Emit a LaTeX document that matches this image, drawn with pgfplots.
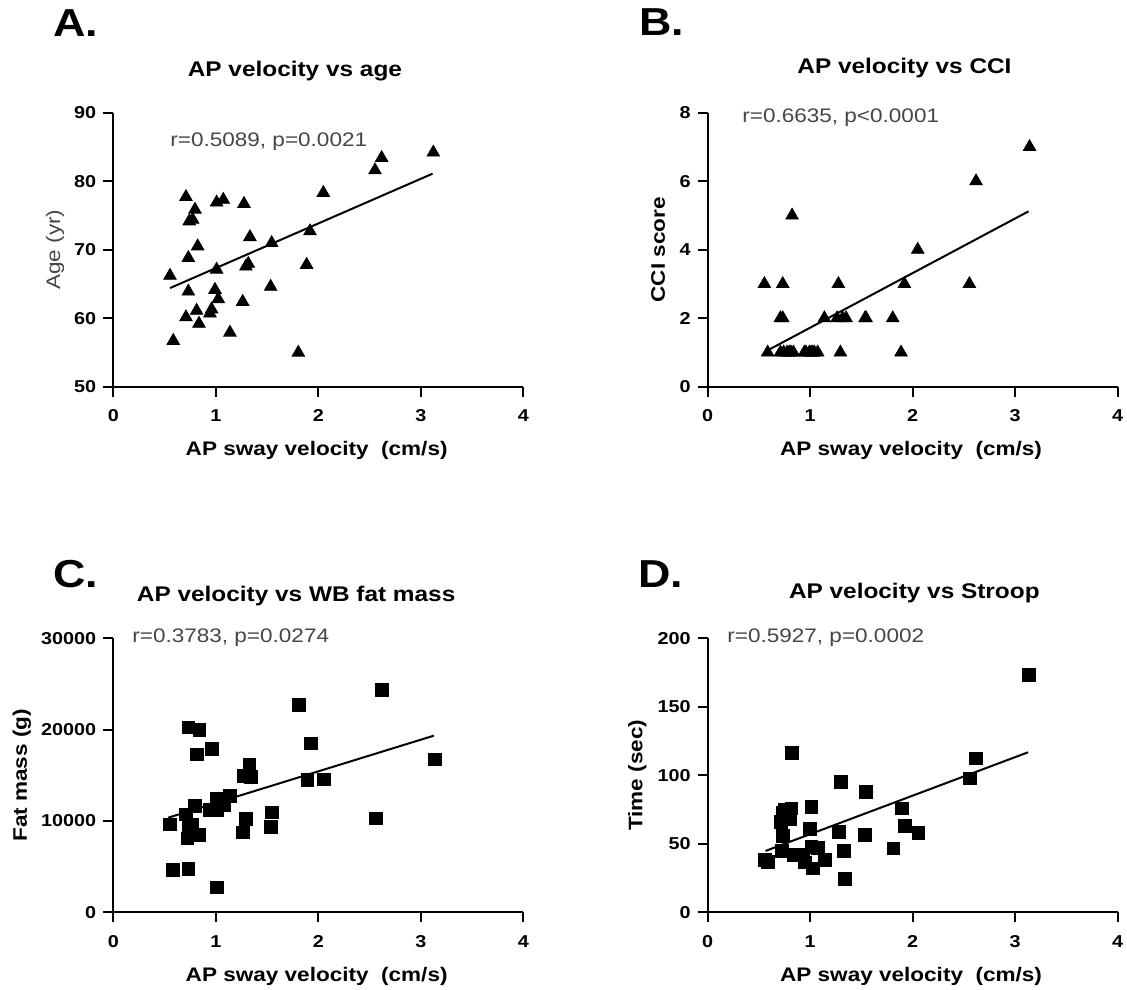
\documentclass[border=0pt]{standalone}
\usepackage{fontspec}
\setmainfont{Liberation Sans}[FakeStretch=1.15]
\usepackage{pgfplots}
\pgfplotsset{compat=1.18}
\definecolor{anno}{RGB}{70,70,70}

\pgfplotsset{
  panel/.style={
    width=205pt, height=137pt, scale only axis,
    xmin=0, xmax=4, xtick={0,1,2,3,4},
    axis lines=left,
    axis line style={line width=1pt,-},
    tick style={line width=1pt,black},
    tick align=outside, major tick length=5pt,
    ticklabel style={font=\bfseries\fontsize{8.6}{10}\selectfont},
    xticklabel style={yshift=-3pt},
    /pgf/number format/assume math mode=true,
    /pgf/number format/1000 sep={},
    scaled y ticks=false,
    clip=false,
    xlabel={AP sway velocity\ \ (cm/s)},
    xlabel style={at={(axis description cs:0.496,0)}, anchor=base, yshift=-34.6pt,
      font=\bfseries\fontsize{9.8}{11}\selectfont},
    ylabel style={anchor=center, font=\bfseries\fontsize{9.8}{11}\selectfont},
    title style={anchor=base, font=\bfseries\fontsize{10.6}{12}\selectfont},
  },
  tri/.style={only marks, mark=triangle*, mark size=3.6pt, black},
  sq/.style={only marks, mark=square*, mark size=3.2pt, black},
  fit/.style={black, line width=1pt, no marks},
}
\tikzset{
  annot/.style={anchor=base west, inner sep=0pt, text=anno, font=\fontsize{9.8}{11}\selectfont},
  letter/.style={anchor=base west, inner sep=0pt, font=\bfseries\fontsize{19.5}{21}\selectfont},
}

\begin{document}
\begin{tikzpicture}
\useasboundingbox (0,0) rectangle (563.5pt,-494.5pt);

% panel letters
\node[letter] at (26.3pt,-18.5pt) {A.};
\node[letter] at (319.5pt,-18pt) {B.};
\node[letter] at (26.5pt,-293.5pt) {C.};
\node[letter] at (319pt,-293.5pt) {D.};

% A
\begin{axis}[panel, at={(56.65pt,-193.35pt)},
  ymin=50, ymax=90, ytick={50,60,70,80,90},
  ylabel={Age (yr)},
  ylabel style={at={(axis description cs:-0.142,0.5)}, font=\fontsize{9.8}{11}\selectfont, text=anno},
  title={AP velocity vs age},
  title style={at={(axis description cs:0.443,1)}, yshift=12pt}]
\addplot[tri] coordinates {
 (0.553,66.2) (0.585,56.7) (0.709,77.7) (0.732,68.8) (0.732,63.9) (0.709,60.15)
 (0.741,74.15) (0.774,74.4) (0.797,75.85) (0.823,70.5) (0.813,61.1) (0.836,59.2)
 (0.943,60.7) (0.959,61.3) (0.992,64.15) (1.024,62.8) (1.008,67.1) (1.008,76.9)
 (1.073,77.3) (1.138,57.9) (1.262,62.4) (1.275,76.7) (1.294,67.55) (1.317,67.95)
 (1.333,71.85) (1.535,64.6) (1.545,70.98) (1.805,54.98) (1.886,67.8) (1.919,72.7)
 (2.049,78.3) (2.553,81.6) (2.618,83.4) (3.122,84.2)
};
\addplot[fit] coordinates {(0.553,64.4) (3.115,81.1)};
\node[annot] at (axis cs:0.553,85.1) {r=0.5089, p=0.0021};
\end{axis}

% B
\begin{axis}[panel, at={(353.85pt,-193.35pt)},
  ymin=0, ymax=8, ytick={0,2,4,6,8},
  ylabel={CCI score}, ylabel style={at={(axis description cs:-0.121,0.5)}},
  title={AP velocity vs CCI},
  title style={at={(axis description cs:0.48,1)}, yshift=13.4pt}]
\addplot[tri] coordinates {
 (0.553,3) (0.585,1) (0.709,2) (0.732,3) (0.732,2) (0.709,1)
 (0.741,1) (0.774,1) (0.797,1) (0.823,5) (0.813,1) (0.836,1)
 (0.943,1) (0.959,1) (0.992,1) (1.024,1) (1.008,1) (1.040,1)
 (1.073,1) (1.138,2) (1.262,2) (1.275,3) (1.294,1) (1.317,2)
 (1.350,2) (1.535,2) (1.545,2) (1.805,2) (1.886,1) (1.919,3)
 (2.049,4) (2.553,3) (2.618,6) (3.140,7)
};
\addplot[fit] coordinates {(0.59,1.07) (3.13,5.12)};
\node[annot] at (axis cs:0.334,7.70) {r=0.6635, p<0.0001};
\end{axis}

% C
\begin{axis}[panel, at={(56.65pt,-456.15pt)},
  ymin=0, ymax=30000, ytick={0,10000,20000,30000},
  ylabel={Fat mass (g)}, ylabel style={at={(axis description cs:-0.223,0.5)}},
  title={AP velocity vs WB fat mass},
  title style={at={(axis description cs:0.446,1)}, yshift=12.3pt}]
\addplot[sq] coordinates {
 (0.553,9635) (0.579,4635) (0.732,20255) (0.839,19964) (0.813,17300) (0.959,17883)
 (0.709,10730) (0.797,11679) (0.764,9562) (0.722,8102) (0.832,8467) (0.732,4745)
 (0.740,9200) (0.943,11204) (1.008,11204) (1.008,12482) (1.080,11752) (1.138,12774)
 (1.008,2737) (1.275,14964) (1.327,16204) (1.340,14854) (1.294,10219) (1.268,8759)
 (1.545,10949) (1.538,9380) (1.811,22701) (1.893,14489) (1.925,18504) (2.055,14562)
 (2.563,10292) (2.618,24343) (3.138,16752)
};
\addplot[fit] coordinates {(0.537,10365) (3.128,19343)};
\node[annot] at (axis cs:0.182,29595) {r=0.3783, p=0.0274};
\end{axis}

% D
\begin{axis}[panel, at={(353.85pt,-456.15pt)},
  ymin=0, ymax=200, ytick={0,50,100,150,200},
  ylabel={Time (sec)}, ylabel style={at={(axis description cs:-0.172,0.5)}},
  title={AP velocity vs Stroop},
  title style={at={(axis description cs:0.504,1)}, yshift=14pt}]
\addplot[sq] coordinates {
 (3.135,173.2) (2.616,112.4) (2.561,97.8) (0.823,116.1) (1.297,95.4) (1.546,88.1)
 (1.893,75.9) (1.925,63.3) (2.055,57.7) (1.812,46.7) (1.536,56.4) (1.277,58.9)
 (1.329,44.8) (1.342,24.3) (1.011,77.1) (0.995,60.8) (0.817,75.9) (0.736,72.3)
 (0.713,66.2) (0.801,67.9) (0.736,56.0) (0.720,44.8) (0.840,41.8) (0.930,42.3)
 (0.947,36.5) (1.011,47.9) (1.076,47.2) (1.141,38.2) (1.028,32.1) (0.558,38.2)
 (0.590,37.0) (0.750,75.0)
};
\addplot[fit] coordinates {(0.564,44.8) (3.125,116.8)};
\node[annot] at (axis cs:0.188,196.6) {r=0.5927, p=0.0002};
\end{axis}
\end{tikzpicture}
\end{document}
